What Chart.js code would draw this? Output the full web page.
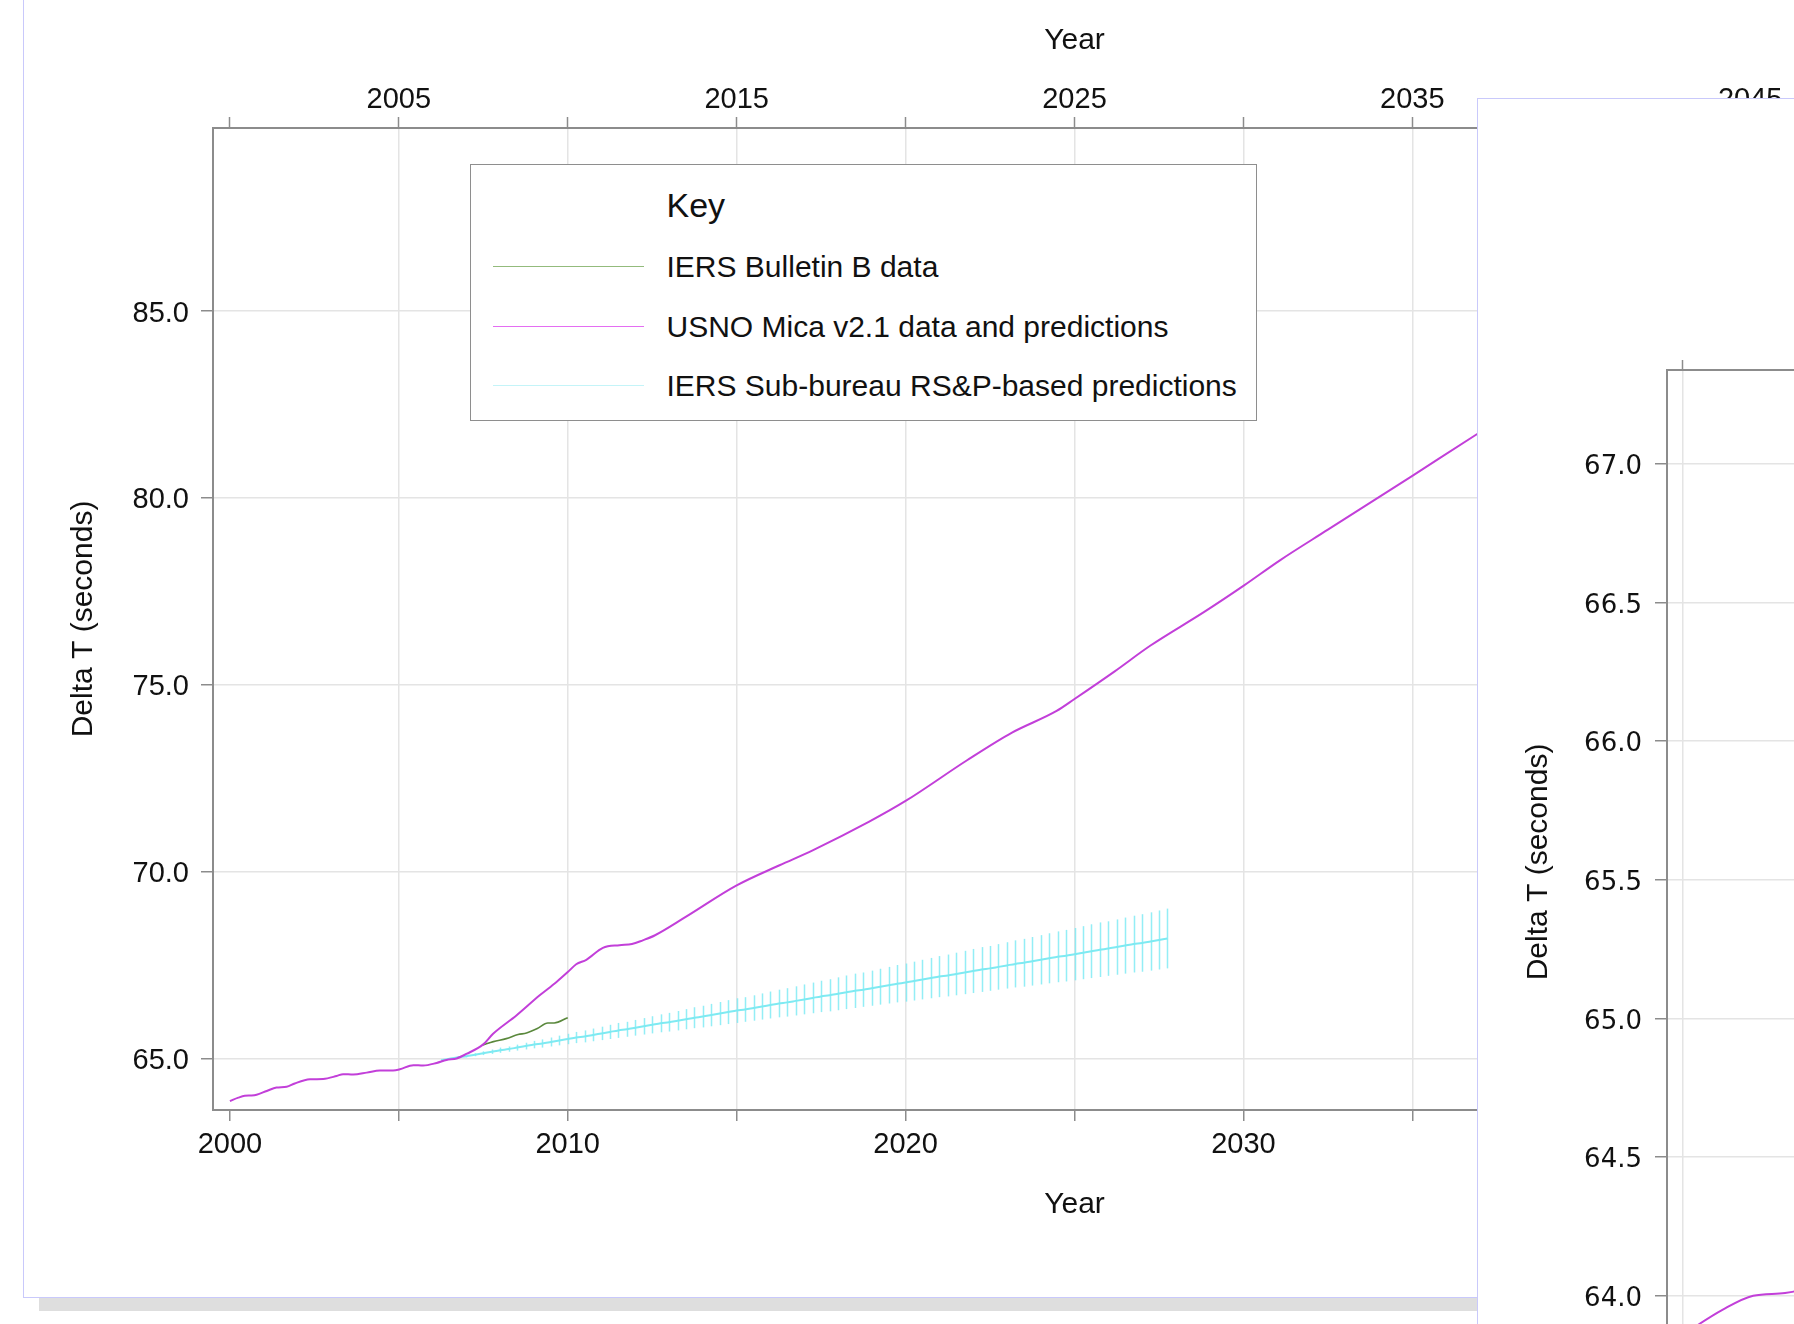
<!DOCTYPE html>
<html>
<head>
<meta charset="utf-8">
<title>Delta T predictions</title>
<script src="https://cdn.jsdelivr.net/npm/chart.js@4.4.1/dist/chart.umd.min.js"></script>
<style>
  html, body { margin: 0; padding: 0; background: #fff; }
  body { width: 1794px; height: 1324px; overflow: hidden; position: relative; font-family: 'Liberation Sans', Arial, sans-serif; color: #111; }
  #mainPanel { position: absolute; left: 23px; top: -10px; width: 2100px; height: 1307.5px; border: 1.5px solid #c9c9fb; box-sizing: border-box; background: #fff; }
  #shadow { position: absolute; left: 39px; top: 1297.5px; width: 1900px; height: 13px; background: #dedede; }
  #mainChart { position: absolute; left: 26px; top: 0; z-index: 1; }
  #legend { position: absolute; left: 470px; top: 163.5px; width: 787px; height: 257.5px; border: 1.5px solid #8e8e8e; box-sizing: border-box; background: #fff; z-index: 2; }
  #legend .key { position: absolute; left: 195.5px; top: 20px; font-size: 34px; line-height: 40px; }
  #legend .row { position: absolute; left: 0; width: 100%; height: 36px; }
  #legend .swatch { position: absolute; left: 21.5px; top: 17px; width: 151px; height: 0; border-top: 1.5px solid; }
  #legend .label { position: absolute; left: 195.5px; top: 0; font-size: 30px; line-height: 36px; white-space: nowrap; }
  #zoomPanel { position: absolute; left: 1476.5px; top: 97.5px; width: 400px; height: 1300px; border: 1.5px solid #c9c9fb; box-sizing: border-box; background: #fff; z-index: 5; }
  #zoomChart { position: absolute; left: 1479px; top: 100px; z-index: 6; }
</style>
</head>
<body>
<div id="mainPanel"></div>
<div id="shadow"></div>
<canvas id="mainChart" width="1960" height="1294"></canvas>
<div id="legend"><div class="key">Key</div></div>
<div id="zoomPanel"></div>
<canvas id="zoomChart" width="1840" height="1434"></canvas>

<script>
// USNO Mica v2.1 data and predictions
const micaYears = [
  2000.0, 2000.25, 2000.44, 2000.64, 2000.79, 2001.09, 2001.38, 2001.68, 2001.92, 2002.37,
  2002.76, 2003.16, 2003.35, 2003.65, 2004.05, 2004.44, 2004.83, 2005.03, 2005.43, 2005.72,
  2006.12, 2006.41, 2006.71, 2007.0, 2007.49, 2007.79, 2008.48, 2009.17, 2009.66, 2010.0,
  2010.25, 2010.55, 2011.04, 2011.53, 2011.9, 2012.22, 2012.57, 2013.48, 2015.0, 2016.27,
  2017.25, 2018.91, 2020.0, 2021.82, 2023.15, 2024.47, 2025.0, 2026.19, 2027.25, 2028.84,
  2030.02, 2031.08, 2032.5, 2035.0, 2036.85, 2040.0
];
const micaDeltaT = [
  63.86, 63.95, 64.00, 64.01, 64.03, 64.13, 64.22, 64.24, 64.33, 64.44,
  64.45, 64.53, 64.58, 64.57, 64.62, 64.68, 64.68, 64.71, 64.82, 64.81,
  64.88, 64.96, 65.00, 65.12, 65.37, 65.66, 66.15, 66.69, 67.04, 67.31,
  67.52, 67.64, 67.96, 68.03, 68.06, 68.16, 68.29, 68.78, 69.63, 70.17,
  70.57, 71.33, 71.89, 72.98, 73.72, 74.30, 74.62, 75.36, 76.05, 76.95,
  77.66, 78.33, 79.15, 80.59, 81.67, 83.45
];

// IERS Bulletin B data
const bulletinYears = [2007.49, 2007.8, 2008.18, 2008.53, 2008.78, 2009.1, 2009.41, 2009.6, 2010.0];
const bulletinDeltaT = [65.36, 65.45, 65.53, 65.64, 65.68, 65.80, 65.95, 65.95, 66.09];

// IERS Sub-bureau RS&P-based predictions, quarterly, with error bars
const rspYears = [
  2006.25, 2006.5, 2006.75, 2007, 2007.25, 2007.5, 2007.75, 2008, 2008.25, 2008.5,
  2008.75, 2009, 2009.25, 2009.5, 2009.75, 2010, 2010.25, 2010.5, 2010.75, 2011,
  2011.25, 2011.5, 2011.75, 2012, 2012.25, 2012.5, 2012.75, 2013, 2013.25, 2013.5,
  2013.75, 2014, 2014.25, 2014.5, 2014.75, 2015, 2015.25, 2015.5, 2015.75, 2016,
  2016.25, 2016.5, 2016.75, 2017, 2017.25, 2017.5, 2017.75, 2018, 2018.25, 2018.5,
  2018.75, 2019, 2019.25, 2019.5, 2019.75, 2020, 2020.25, 2020.5, 2020.75, 2021,
  2021.25, 2021.5, 2021.75, 2022, 2022.25, 2022.5, 2022.75, 2023, 2023.25, 2023.5,
  2023.75, 2024, 2024.25, 2024.5, 2024.75, 2025, 2025.25, 2025.5, 2025.75, 2026,
  2026.25, 2026.5, 2026.75, 2027, 2027.25, 2027.5, 2027.75
];
const rspDeltaT = [
  64.95, 64.99, 65.03, 65.06, 65.10, 65.14, 65.18, 65.22, 65.25, 65.29,
  65.33, 65.37, 65.40, 65.44, 65.48, 65.52, 65.56, 65.59, 65.63, 65.67,
  65.71, 65.75, 65.78, 65.82, 65.86, 65.90, 65.94, 65.97, 66.01, 66.05,
  66.09, 66.12, 66.16, 66.20, 66.24, 66.28, 66.31, 66.35, 66.39, 66.43,
  66.47, 66.50, 66.54, 66.58, 66.62, 66.66, 66.69, 66.73, 66.77, 66.81,
  66.84, 66.88, 66.92, 66.96, 67.00, 67.03, 67.07, 67.11, 67.15, 67.19,
  67.22, 67.26, 67.30, 67.34, 67.38, 67.41, 67.45, 67.49, 67.53, 67.56,
  67.60, 67.64, 67.68, 67.72, 67.75, 67.79, 67.83, 67.87, 67.91, 67.94,
  67.98, 68.02, 68.06, 68.09, 68.13, 68.17, 68.21
];
const rspError = [
  0.00, 0.01, 0.02, 0.03, 0.04, 0.05, 0.06, 0.07, 0.07, 0.08,
  0.09, 0.10, 0.11, 0.12, 0.13, 0.14, 0.15, 0.16, 0.17, 0.18,
  0.19, 0.20, 0.20, 0.21, 0.22, 0.23, 0.24, 0.25, 0.26, 0.27,
  0.28, 0.29, 0.30, 0.31, 0.32, 0.33, 0.33, 0.34, 0.35, 0.36,
  0.37, 0.38, 0.39, 0.40, 0.41, 0.42, 0.43, 0.44, 0.45, 0.46,
  0.46, 0.47, 0.48, 0.49, 0.50, 0.51, 0.52, 0.53, 0.54, 0.55,
  0.56, 0.57, 0.58, 0.59, 0.60, 0.60, 0.61, 0.62, 0.63, 0.64,
  0.65, 0.66, 0.67, 0.68, 0.69, 0.70, 0.71, 0.72, 0.73, 0.73,
  0.74, 0.75, 0.76, 0.77, 0.78, 0.79, 0.80
];

const seriesLabels = [
  'IERS Bulletin B data',
  'USNO Mica v2.1 data and predictions',
  'IERS Sub-bureau RS&P-based predictions'
];

// tick values
const yearTicks = [2000, 2005, 2010, 2015, 2020, 2025, 2030, 2035, 2040, 2045, 2050];
const deltaTTicks = [65, 70, 75, 80, 85];
const zoomYearTicks = [2000, 2001, 2002, 2003, 2004, 2005, 2006, 2007, 2008, 2009, 2010];
const zoomDeltaTTicks = [64.0, 64.5, 65.0, 65.5, 66.0, 66.5, 67.0];

const SANS = "'Liberation Sans', Arial, sans-serif";
const TEXT = '#111';
const AXIS = '#8c8c8c';
const GRID = '#e4e4e4';
const lineColors = ['#5a883c', '#c23fd9', '#7eeaf2'];
const keyColors = ['#93bb7c', '#e46ef2', '#c4f4f8'];

Chart.defaults.font.family = SANS;
Chart.defaults.color = TEXT;

function toPoints(xs, ys) {
  return xs.map((x, i) => ({x: x, y: ys[i]}));
}

function makeDatasets() {
  return [
    {label: seriesLabels[0], data: toPoints(bulletinYears, bulletinDeltaT), borderColor: lineColors[0], borderWidth: 1.6, order: 1},
    {label: seriesLabels[1], data: toPoints(micaYears, micaDeltaT), borderColor: lineColors[1], borderWidth: 2, order: 0},
    {label: seriesLabels[2], data: toPoints(rspYears, rspDeltaT), borderColor: lineColors[2], borderWidth: 2, order: 2}
  ];
}

// vertical error bars for the RS&P predictions
const errorBars = {
  id: 'errorBars',
  beforeDatasetsDraw(chart) {
    const ctx = chart.ctx;
    const area = chart.chartArea;
    const xs = chart.scales.x;
    const ys = chart.scales.y;
    ctx.save();
    ctx.beginPath();
    ctx.rect(area.left, area.top, area.right - area.left, area.bottom - area.top);
    ctx.clip();
    ctx.strokeStyle = 'rgba(120, 234, 244, 0.8)';
    ctx.lineWidth = 1.5;
    rspYears.forEach((yr, i) => {
      const px = Math.round(xs.getPixelForValue(yr)) + 0.5;
      ctx.beginPath();
      ctx.moveTo(px, ys.getPixelForValue(rspDeltaT[i] - rspError[i]));
      ctx.lineTo(px, ys.getPixelForValue(rspDeltaT[i] + rspError[i]));
      ctx.stroke();
    });
    ctx.restore();
  }
};

function setTicks(values) {
  return scale => { scale.ticks = values.map(v => ({value: v})); };
}

// main chart
const mainChart = new Chart(document.getElementById('mainChart'), {
  type: 'line',
  data: {datasets: makeDatasets()},
  options: {
    responsive: false,
    animation: false,
    devicePixelRatio: 1,
    layout: {padding: {top: 0, right: 50, bottom: 0, left: 0}},
    elements: {point: {radius: 0}, line: {cubicInterpolationMode: 'monotone'}},
    plugins: {legend: {display: false}, tooltip: {enabled: false}},
    scales: {
      x: {
        type: 'linear', position: 'bottom', min: 1999.5, max: 2050.5,
        afterBuildTicks: setTicks(yearTicks),
        afterFit: s => { s.height = 184; },
        ticks: {callback: v => (v % 10 === 0 ? String(v) : ''), font: {size: 29}, color: TEXT, padding: 7, maxRotation: 0, autoSkip: false},
        grid: {color: c => (c.tick && c.tick.value === 2000 ? 'rgba(0,0,0,0)' : GRID), lineWidth: 1.5, tickLength: 11, tickColor: AXIS, tickWidth: 1.5},
        border: {color: AXIS, width: 2},
        title: {display: true, text: 'Year', font: {size: 30}, color: TEXT, padding: 71}
      },
      x2: {
        type: 'linear', position: 'top', min: 1999.5, max: 2050.5,
        afterBuildTicks: setTicks(yearTicks),
        afterFit: s => { s.height = 128; },
        ticks: {callback: v => (v % 10 === 5 ? String(v) : ''), font: {size: 29}, color: TEXT, padding: 0, maxRotation: 0, autoSkip: false},
        grid: {drawOnChartArea: false, tickLength: 11, tickColor: AXIS, tickWidth: 1.5},
        border: {color: AXIS, width: 2},
        title: {display: true, text: 'Year', font: {size: 30}, color: TEXT, padding: 23}
      },
      y: {
        type: 'linear', position: 'left', min: 63.62, max: 89.9,
        afterBuildTicks: setTicks(deltaTTicks),
        afterFit: s => { s.width = 187; },
        ticks: {callback: v => v.toFixed(1), font: {size: 29}, color: TEXT, padding: 12, labelOffset: 2.5},
        grid: {color: GRID, lineWidth: 1.5, tickLength: 12, tickColor: AXIS, tickWidth: 1.5},
        border: {color: AXIS, width: 2},
        title: {display: true, text: 'Delta T (seconds)', font: {size: 30}, color: TEXT, padding: 40}
      }
    }
  },
  plugins: [errorBars]
});

// key box built from the chart's datasets
const legendBox = document.getElementById('legend');
const rowCentres = [102.6, 162, 221.6];
mainChart.data.datasets.forEach((ds, i) => {
  const row = document.createElement('div');
  row.className = 'row';
  row.style.top = (rowCentres[i] - 18) + 'px';
  const swatch = document.createElement('div');
  swatch.className = 'swatch';
  swatch.style.borderTopColor = keyColors[i];
  const label = document.createElement('div');
  label.className = 'label';
  label.textContent = ds.label;
  row.appendChild(swatch);
  row.appendChild(label);
  legendBox.appendChild(row);
});

// second (zoomed) window, partly visible on the right
new Chart(document.getElementById('zoomChart'), {
  type: 'line',
  data: {datasets: makeDatasets()},
  options: {
    responsive: false,
    animation: false,
    devicePixelRatio: 1,
    layout: {padding: {top: 0, right: 20, bottom: 0, left: 0}},
    elements: {point: {radius: 0}, line: {cubicInterpolationMode: 'monotone'}},
    plugins: {legend: {display: false}, tooltip: {enabled: false}},
    scales: {
      x: {
        type: 'linear', position: 'bottom', min: 1999.9, max: 2010.1,
        afterBuildTicks: setTicks(zoomYearTicks),
        afterFit: s => { s.height = 180; },
        ticks: {font: {size: 29}, color: TEXT, padding: 4, maxRotation: 0, autoSkip: false},
        grid: {color: GRID, lineWidth: 1.5, tickLength: 10, tickColor: AXIS, tickWidth: 1.5},
        border: {color: AXIS, width: 2}
      },
      x2: {
        type: 'linear', position: 'top', min: 1999.9, max: 2010.1,
        afterBuildTicks: setTicks(zoomYearTicks),
        afterFit: s => { s.height = 270; },
        ticks: {callback: () => '', font: {size: 29}, padding: 2},
        grid: {drawOnChartArea: false, tickLength: 10, tickColor: AXIS, tickWidth: 1.5},
        border: {color: AXIS, width: 2}
      },
      y: {
        type: 'linear', position: 'left', min: 63.79, max: 67.338,
        afterBuildTicks: setTicks(zoomDeltaTTicks),
        afterFit: s => { s.width = 188; },
        ticks: {callback: v => v.toFixed(1), font: {size: 26, family: "'DejaVu Sans', Verdana, sans-serif"}, color: TEXT, padding: 13, labelOffset: 3.5},
        grid: {color: GRID, lineWidth: 1.5, tickLength: 12, tickColor: AXIS, tickWidth: 1.5},
        border: {color: AXIS, width: 2},
        title: {display: true, text: 'Delta T (seconds)', font: {size: 30}, color: TEXT, padding: 42}
      }
    }
  },
  plugins: [errorBars]
});
</script>
</body>
</html>
